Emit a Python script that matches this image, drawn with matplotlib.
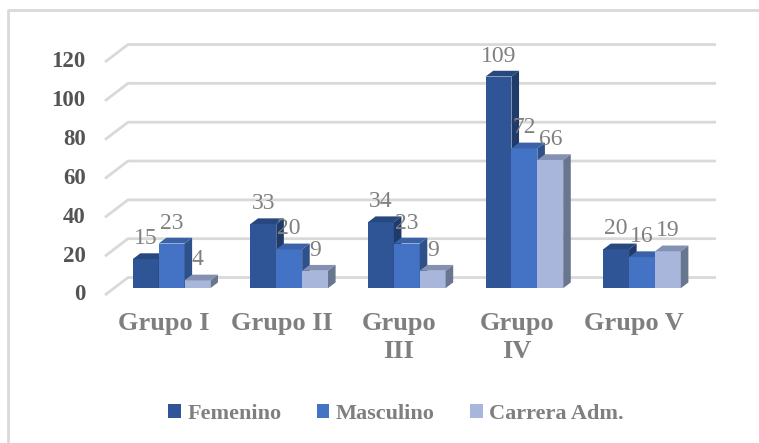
import matplotlib
matplotlib.use("Agg")
import matplotlib.pyplot as plt
from matplotlib.patches import Polygon, Patch
from matplotlib.lines import Line2D

plt.rcParams['font.family'] = ['Liberation Serif', 'DejaVu Serif']

##### DATA #####

groups = ['Grupo I', 'Grupo II', 'Grupo\nIII', 'Grupo\nIV', 'Grupo V']
series = ['Femenino', 'Masculino', 'Carrera Adm.']
femenino = [15, 33, 34, 109, 20]
masculino = [23, 20, 23, 72, 16]
carrera = [4, 9, 9, 66, 19]
yticks = [0, 20, 40, 60, 80, 100, 120]

# front, top, side colours per series
colors = [
    ('#2F5597', '#27487F', '#203B69'),
    ('#4472C4', '#3A62A8', '#2F5189'),
    ('#A9B6DC', '#8491B4', '#68768F'),
]

##### LAYOUT #####

DX, DY = 0.1956, 9.0      # depth of floor (category units, value units)
ZF, ZB = 0.39, 0.72       # bar front / back depth fraction
W = 0.22                  # bar width
G0 = 0.16                 # gap before first bar of a group

fig = plt.figure(figsize=(7.59, 4.43), dpi=100)
ax = fig.add_axes([0, 0, 1, 1])
ax.set_xlim(-105 / 117.6, (759 - 105) / 117.6)
ax.set_ylim(-(443 - 295) / 1.9417, 295 / 1.9417)
ax.axis('off')

grid_c = '#D9D9D9'
n = len(groups)
for v in yticks:
    ax.plot([0, DX, n + DX], [v, v + DY, v + DY], color=grid_c, lw=2, zorder=1,
            solid_capstyle='butt')
    ax.text(-0.165, v, str(v), ha='right', va='center', fontsize=16.5,
            fontweight='bold', color='#545454')

values = [femenino, masculino, carrera]
z = 2
for i in range(n):
    for k in range(len(series)):
        v = values[k][i]
        front, top, side = colors[k]
        x0 = i + G0 + k * W
        xf, xb = x0 + ZF * DX, x0 + ZB * DX
        yf, yb = ZF * DY, ZB * DY
        ax.bar(xf, v, width=W, bottom=yf, align='edge', color=front, zorder=z)
        ax.add_patch(Polygon([(xf, v + yf), (xf + W, v + yf), (xb + W, v + yb), (xb, v + yb)],
                             closed=True, facecolor=top, edgecolor='none', zorder=z))
        ax.add_patch(Polygon([(xf + W, yf), (xb + W, yb), (xb + W, v + yb), (xf + W, v + yf)],
                             closed=True, facecolor=side, edgecolor='none', zorder=z))
        z += 1
for i in range(n):
    for k in range(len(series)):
        v = values[k][i]
        x0 = i + G0 + k * W
        ax.annotate(str(v), (x0 + ZF * DX + W / 2, v + ZF * DY), xytext=(0, 10.8),
                    textcoords='offset points', ha='center', va='baseline',
                    fontsize=17, color='#808080', zorder=100)

for i, g in enumerate(groups):
    ax.text(i + 0.5, -8.8, g, ha='center', va='top', fontsize=19,
            fontweight='bold', color='#7F7F7F', linespacing=1.3)

handles = [Patch(facecolor=c[0], edgecolor='none') for c in colors]
leg = fig.legend(handles, series, loc='center', bbox_to_anchor=(0.522, 1 - 414 / 443),
                 ncol=3, frameon=False, handlelength=0.55, handleheight=0.55,
                 handletextpad=0.3, columnspacing=1.6,
                 prop={'size': 16, 'weight': 'bold'})
for t in leg.get_texts():
    t.set_color('#7F7F7F')

# chart border (only top and left visible)
fig.add_artist(Line2D([7.5 / 759, 7.5 / 759, 1], [0, 1 - 10 / 443, 1 - 10 / 443],
                      color=grid_c, lw=2, transform=fig.transFigure))

fig.savefig('out.png', dpi=100)
